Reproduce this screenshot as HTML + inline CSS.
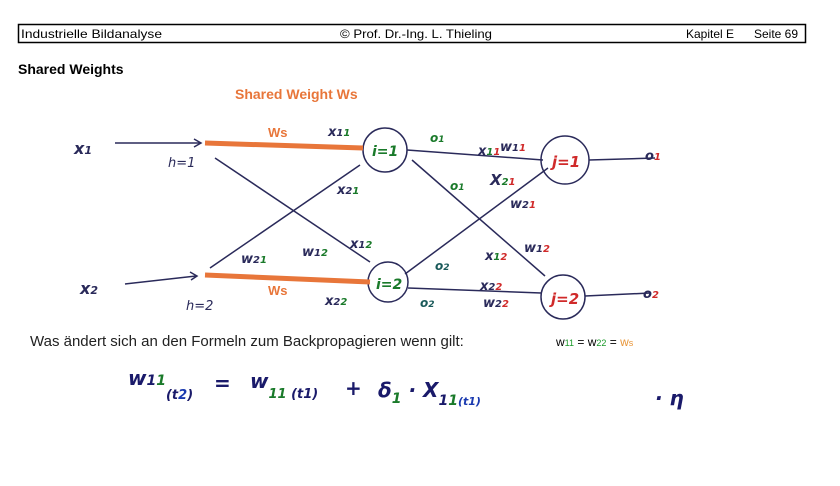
<!DOCTYPE html>
<html><head><meta charset="utf-8"><style>
body{margin:0;background:#fff;width:840px;height:486px;overflow:hidden;font-family:"Liberation Sans",sans-serif}
svg{position:absolute;left:0;top:0}
</style></head><body>
<svg width="840" height="486" viewBox="0 0 840 486" font-family="Liberation Sans, sans-serif">
<rect x="18.5" y="24.5" width="787" height="18" fill="none" stroke="#000" stroke-width="1.5"/>
<text x="21" y="38" font-size="12" textLength="141" lengthAdjust="spacingAndGlyphs">Industrielle Bildanalyse</text>
<text x="340" y="38" font-size="12" textLength="152" lengthAdjust="spacingAndGlyphs">© Prof. Dr.-Ing. L. Thieling</text>
<text x="686" y="38" font-size="12">Kapitel E</text>
<text x="754" y="38" font-size="12">Seite 69</text>
<text x="18" y="74" font-size="14" font-weight="bold">Shared Weights</text>
<text x="235" y="99" font-size="14" font-weight="bold" fill="#e8763a">Shared  Weight  Ws</text>
<g stroke="#2a2a5a" stroke-width="1.5" fill="none">
<line x1="115" y1="143" x2="200" y2="143"/><path d="M194 139 L201 143 L194 147"/>
<line x1="125" y1="284" x2="196" y2="276"/><path d="M190 272 L197 276 L191 280"/>
<line x1="215" y1="158" x2="370" y2="262"/>
<line x1="210" y1="268" x2="360" y2="165"/>
<line x1="407" y1="150" x2="543" y2="160"/>
<line x1="412" y1="160" x2="545" y2="276"/>
<line x1="405" y1="274" x2="548" y2="168"/>
<line x1="408" y1="288" x2="541" y2="293"/>
<line x1="589" y1="160" x2="655" y2="158"/>
<line x1="585" y1="296" x2="650" y2="293"/>
<circle cx="385" cy="150" r="22"/><circle cx="565" cy="160" r="24"/>
<circle cx="388" cy="282" r="20"/><circle cx="563" cy="297" r="22"/>
</g>
<line x1="205" y1="143" x2="363" y2="148" stroke="#e8763a" stroke-width="5"/>
<line x1="205" y1="275" x2="370" y2="282" stroke="#e8763a" stroke-width="5"/>
<g font-family="DejaVu Sans, sans-serif" font-style="italic" font-weight="bold" fill="#2a2a5a" font-size="16">
<text x="74" y="154">x<tspan font-size="11">1</tspan></text>
<text x="80" y="294">x<tspan font-size="11">2</tspan></text>
<text x="168" y="167" font-size="13" font-weight="normal">h=1</text>
<text x="186" y="310" font-size="13" font-weight="normal">h=2</text>
<text x="328" y="136" font-size="13">x<tspan font-size="10">1</tspan><tspan font-size="10" fill="#1a7a2a">1</tspan></text>
<text x="337" y="194" font-size="13">x<tspan font-size="10">2</tspan><tspan font-size="10" fill="#1a7a2a">1</tspan></text>
<text x="241" y="263" font-size="13">w<tspan font-size="10">2</tspan><tspan font-size="10" fill="#1a7a2a">1</tspan></text>
<text x="302" y="256" font-size="13">w<tspan font-size="10">1</tspan><tspan font-size="10" fill="#1a7a2a">2</tspan></text>
<text x="350" y="248" font-size="13">x<tspan font-size="10">1</tspan><tspan font-size="10" fill="#1a7a2a">2</tspan></text>
<text x="325" y="305" font-size="13">x<tspan font-size="10">2</tspan><tspan font-size="10" fill="#1a7a2a">2</tspan></text>
<text x="430" y="142" font-size="12" fill="#1a7a2a">o<tspan font-size="9">1</tspan></text>
<text x="450" y="190" font-size="12" fill="#1a7a2a">o<tspan font-size="9">1</tspan></text>
<text x="435" y="270" font-size="12" fill="#1a5a5a">o<tspan font-size="9">2</tspan></text>
<text x="420" y="307" font-size="12" fill="#1a5a5a">o<tspan font-size="9">2</tspan></text>
<text x="478" y="155" font-size="13">x<tspan font-size="10" fill="#1a7a2a">1</tspan><tspan font-size="10" fill="#d02a2a">1</tspan></text>
<text x="500" y="151" font-size="13">w<tspan font-size="10">1</tspan><tspan font-size="10" fill="#d02a2a">1</tspan></text>
<text x="490" y="185" font-size="15">X<tspan font-size="10" fill="#1a7a2a">2</tspan><tspan font-size="10" fill="#d02a2a">1</tspan></text>
<text x="510" y="208" font-size="13">w<tspan font-size="10">2</tspan><tspan font-size="10" fill="#d02a2a">1</tspan></text>
<text x="485" y="260" font-size="13">x<tspan font-size="10" fill="#1a7a2a">1</tspan><tspan font-size="10" fill="#d02a2a">2</tspan></text>
<text x="524" y="252" font-size="13">w<tspan font-size="10">1</tspan><tspan font-size="10" fill="#d02a2a">2</tspan></text>
<text x="480" y="290" font-size="13">x<tspan font-size="10">2</tspan><tspan font-size="10" fill="#d02a2a">2</tspan></text>
<text x="483" y="307" font-size="13">w<tspan font-size="10">2</tspan><tspan font-size="10" fill="#d02a2a">2</tspan></text>
<text x="645" y="160" font-size="13">o<tspan font-size="10" fill="#d02a2a">1</tspan></text>
<text x="643" y="298" font-size="13">o<tspan font-size="10" fill="#d02a2a">2</tspan></text>
<text x="372" y="156" font-size="14" fill="#1a7a2a">i=1</text>
<text x="376" y="289" font-size="14" fill="#1a7a2a">i=2</text>
<text x="552" y="167" font-size="15" fill="#d02a2a">j=1</text>
<text x="551" y="304" font-size="15" fill="#d02a2a">j=2</text>
</g>
<text x="268" y="137" font-size="13" font-weight="bold" fill="#e8763a">Ws</text>
<text x="268" y="295" font-size="13" font-weight="bold" fill="#e8763a">Ws</text>
<text x="30" y="346" font-size="15" fill="#222">Was ändert sich an den Formeln zum Backpropagieren wenn gilt:</text>
<text x="556" y="346" font-size="12">w<tspan font-size="9" fill="#1a9a2a">11</tspan> = w<tspan font-size="9" fill="#1a9a2a">22</tspan> =  <tspan fill="#e8963a">w<tspan font-size="9">s</tspan></tspan></text>
<g font-family="DejaVu Sans, sans-serif" font-style="italic" font-weight="bold" fill="#1a1a6a" font-size="20">
<text x="128" y="385">w<tspan font-size="14">1</tspan><tspan font-size="14" fill="#1a7a2a">1</tspan><tspan font-size="13" dy="14">(t</tspan><tspan font-size="13" fill="#1a3ab0">2</tspan><tspan font-size="13">)</tspan></text>
<text x="214" y="390">=</text>
<text x="250" y="388">w<tspan font-size="13" dy="10" fill="#1a7a2a">11</tspan><tspan font-size="13"> (t1)</tspan></text>
<text x="345" y="395">+</text>
<text x="378" y="397">δ<tspan font-size="14" dy="6" fill="#1a7a2a">1</tspan><tspan dy="-6"> · X</tspan><tspan font-size="14" dy="8">1</tspan><tspan font-size="14" fill="#1a7a2a">1</tspan><tspan font-size="11" fill="#1a3ab0">(t1)</tspan></text>
<text x="655" y="405">· η</text>
</g>
</svg>
</body></html>
